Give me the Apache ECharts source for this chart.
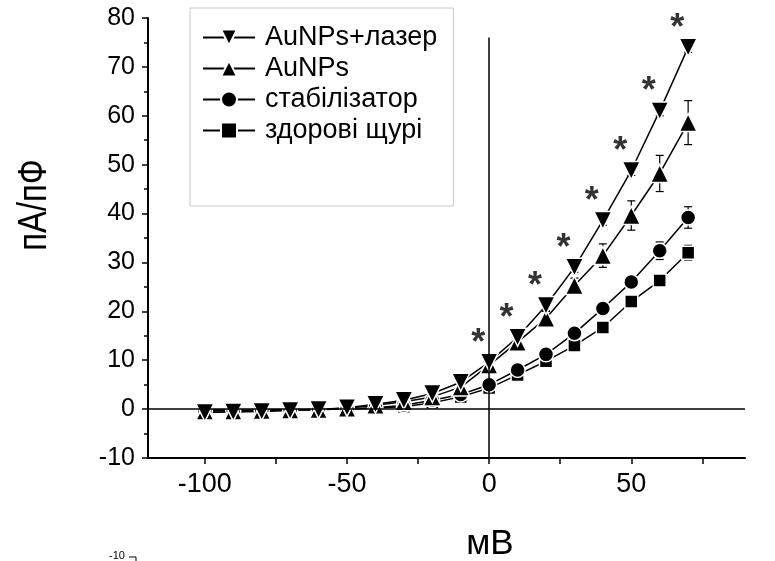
<!DOCTYPE html>
<html>
<head>
<meta charset="utf-8">
<script src="https://cdn.jsdelivr.net/npm/echarts@6/dist/echarts.min.js"></script>
<style>
  html, body { margin: 0; padding: 0; background: #fff; }
  #chart { width: 775px; height: 561px; }
</style>
</head>
<body>
<div id="chart"></div>
<script>
// membrane potential, mV
const voltages = [-100, -90, -80, -70, -60, -50, -40, -30, -20, -10, 0, 10, 20, 30, 40, 50, 60, 70];

// current density, pA/pF
const laser   = [-0.7, -0.6, -0.5, -0.3, -0.1, 0.3, 1.0, 1.8, 3.2, 5.5, 9.6, 14.7, 21.2, 29.0, 38.6, 48.8, 61.0, 74.0];
const aunps   = [-0.4, -0.4, -0.3, -0.2, -0.1, 0.2, 0.8, 1.5, 2.5, 4.5, 9.0, 13.7, 18.6, 25.3, 31.4, 39.6, 48.2, 58.6];
const stab    = [-0.3, -0.3, -0.3, -0.2, -0.1, 0.0, 0.3, 0.8, 1.8, 3.0, 5.0, 8.0, 11.2, 15.5, 20.6, 26.0, 32.4, 39.2];
const healthy = [-0.2, -0.2, -0.2, -0.1, -0.1, 0.0, 0.2, 0.5, 1.3, 2.5, 4.3, 7.0, 9.8, 13.0, 16.7, 22.0, 26.3, 32.0];

// standard errors
const laserErr   = [1.0, 1.0, 1.0, 1.0, 1.0, 1.0, 1.0, 1.0, 1.0, 1.0, 1.2, 1.2, 1.2, 1.0, 1.0, 1.0, 1.0, 1.0];
const aunpsErr   = [0.8, 0.8, 0.8, 0.8, 0.8, 0.8, 0.8, 0.8, 0.8, 1.0, 1.2, 1.5, 1.5, 1.5, 2.4, 3.0, 3.7, 4.5];
const stabErr    = [0.5, 0.5, 0.5, 0.5, 0.5, 0.5, 0.5, 0.5, 0.5, 0.5, 0.6, 0.7, 0.8, 0.9, 1.0, 1.3, 1.8, 2.2];
const healthyErr = [0.4, 0.4, 0.4, 0.4, 0.4, 0.4, 0.4, 0.4, 0.4, 0.4, 0.5, 0.5, 0.6, 0.7, 0.8, 0.9, 1.0, 1.5];

// voltages marked as significant (*)
const starred = [0, 10, 20, 30, 40, 50, 60, 70];

const names = ['AuNPs+лазер', 'AuNPs', 'стабілізатор', 'здорові щурі'];
const xTicks = [-100, -75, -50, -25, 0, 25, 50, 75];
const xLabels = [-100, -50, 0, 50];

const FONT = '"Liberation Sans", Arial, sans-serif';

const pairs = arr => voltages.map((v, i) => [v, arr[i]]);

function errorSeries(values, errs) {
  return {
    type: 'custom',
    silent: true,
    z: 1,
    data: voltages.map((v, i) => [v, values[i] - errs[i], values[i] + errs[i]]),
    renderItem: function (params, api) {
      const lo = api.coord([api.value(0), api.value(1)]);
      const hi = api.coord([api.value(0), api.value(2)]);
      const w = 4;
      const style = { stroke: '#000', lineWidth: 1.2 };
      return {
        type: 'group',
        children: [
          { type: 'line', shape: { x1: lo[0], y1: lo[1], x2: hi[0], y2: hi[1] }, style: style },
          { type: 'line', shape: { x1: lo[0] - w, y1: lo[1], x2: lo[0] + w, y2: lo[1] }, style: style },
          { type: 'line', shape: { x1: hi[0] - w, y1: hi[1], x2: hi[0] + w, y2: hi[1] }, style: style }
        ]
      };
    }
  };
}

function lineSeries(name, values, symbol, size, rotate) {
  return {
    name: name,
    type: 'line',
    data: pairs(values),
    symbol: symbol,
    symbolSize: size,
    symbolRotate: rotate || 0,
    showSymbol: true,
    z: 3,
    lineStyle: { color: '#000', width: 1.5 },
    itemStyle: { color: '#000', borderColor: '#fff', borderWidth: 1.5 }
  };
}

const chart = echarts.init(document.getElementById('chart'));

const option = {
  backgroundColor: '#fff',
  animation: false,
  textStyle: { fontFamily: FONT },
  grid: { left: 148, right: 30, top: 18, bottom: 103 },
  legend: {
    data: names,
    orient: 'vertical',
    left: 190,
    top: 8,
    padding: [16, 16, 62, 12],
    itemGap: 4,
    itemWidth: 52,
    itemHeight: 20,
    borderColor: '#c8c8c8',
    borderWidth: 1,
    textStyle: { fontSize: 27, color: '#000', fontFamily: FONT, padding: [0, 0, 0, 5] }
  },
  xAxis: {
    type: 'value',
    min: -120,
    max: 90,
    axisLine: { onZero: false, lineStyle: { color: '#000', width: 2 } },
    axisTick: { show: true, customValues: xTicks, length: 6, lineStyle: { color: '#000', width: 1.5 } },
    axisLabel: { customValues: xLabels, color: '#000', fontSize: 27, margin: 13, fontFamily: FONT },
    splitLine: { show: false }
  },
  yAxis: {
    type: 'value',
    min: -10,
    max: 80,
    interval: 10,
    axisLine: { onZero: false, lineStyle: { color: '#000', width: 2 } },
    axisTick: { show: true, length: 6, lineStyle: { color: '#000', width: 1.5 } },
    minorTick: { show: true, splitNumber: 2, length: 4, lineStyle: { color: '#000', width: 1.5 } },
    axisLabel: { color: '#000', fontSize: 25, margin: 13, fontFamily: FONT },
    splitLine: { show: false }
  },
  graphic: [
    {
      type: 'text', x: 35, y: 205, rotation: Math.PI / 2, scaleX: 0.82,
      style: { text: 'пА/пФ', font: '40px ' + FONT, fill: '#000', align: 'center', verticalAlign: 'middle' }
    },
    {
      type: 'text', x: 490, y: 544,
      style: { text: 'мВ', font: '35px ' + FONT, fill: '#000', align: 'center', verticalAlign: 'middle' }
    },
    {
      type: 'text', x: 117, y: 556,
      style: { text: '-10', font: '11px ' + FONT, fill: '#000', align: 'center', verticalAlign: 'middle' }
    },
    {
      type: 'polyline',
      shape: { points: [[129, 557], [136, 557], [136, 561]] },
      style: { stroke: '#000', lineWidth: 1, fill: null }
    }
  ],
  series: [
    // zero reference lines
    {
      type: 'line',
      data: [],
      silent: true,
      markLine: {
        symbol: 'none',
        silent: true,
        label: { show: false },
        lineStyle: { color: '#000', width: 1.5, type: 'solid' },
        data: [
          [{ coord: [-120, 0] }, { coord: [90, 0] }],
          [{ coord: [0, -10] }, { coord: [0, 76] }]
        ]
      }
    },
    errorSeries(laser, laserErr),
    errorSeries(aunps, aunpsErr),
    errorSeries(stab, stabErr),
    errorSeries(healthy, healthyErr),
    lineSeries(names[3], healthy, 'rect', 13),
    lineSeries(names[2], stab, 'circle', 15),
    lineSeries(names[1], aunps, 'triangle', 18),
    lineSeries(names[0], laser, 'triangle', 18, 180),
    // significance stars
    {
      type: 'scatter',
      silent: true,
      symbolSize: 1,
      itemStyle: { color: 'transparent' },
      data: starred.map(v => [v, laser[voltages.indexOf(v)]]),
      label: {
        show: true,
        formatter: '*',
        position: 'top',
        offset: [-11, 5],
        fontSize: 36,
        fontWeight: 'bold',
        color: '#000',
        fontFamily: FONT
      },
      z: 4
    }
  ]
};

chart.setOption(option);
</script>
</body>
</html>
